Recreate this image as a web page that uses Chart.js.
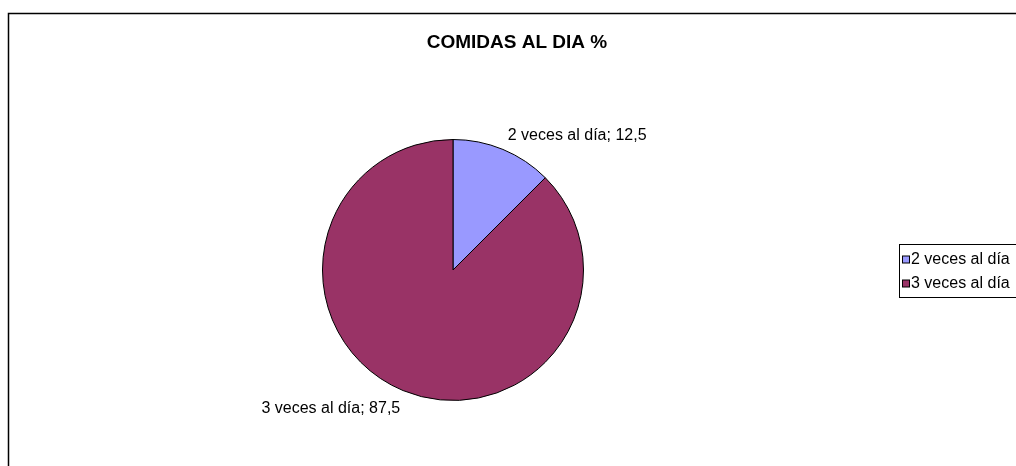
<!DOCTYPE html>
<html>
<head>
<meta charset="utf-8">
<script src="https://cdn.jsdelivr.net/npm/chart.js@4.4.1/dist/chart.umd.min.js"></script>
<style>
  html, body { margin: 0; padding: 0; background: #fff; }
  #wrap { width: 1016px; height: 466px; position: relative; }
</style>
</head>
<body>
<div id="wrap"><canvas id="pieChart" width="1016" height="466"></canvas></div>
<script>
// ── Data ──
const CATEGORIES = ['2 veces al día', '3 veces al día'];
const VALUES = [12.5, 87.5];
const COLORS = ['#9999ff', '#993366'];
const TITLE = 'COMIDAS AL DIA %';

const FONT = '"Liberation Sans", Arial, sans-serif';

// frame, title, legend and outside labels
const excelLook = {
  id: 'excelLook',
  afterDraw(chart) {
    const ctx = chart.ctx;
    ctx.save();

    // outer frame (right/bottom edges fall outside the picture)
    ctx.strokeStyle = '#000';
    ctx.lineWidth = 1.5;
    ctx.beginPath();
    ctx.moveTo(8.5, 470);
    ctx.lineTo(8.5, 13.5);
    ctx.lineTo(1020, 13.5);
    ctx.stroke();

    // title
    ctx.fillStyle = '#000';
    ctx.font = 'bold 19px ' + FONT;
    ctx.textAlign = 'center';
    ctx.textBaseline = 'middle';
    ctx.fillText(TITLE, 517, 43);

    // data labels outside slices
    ctx.font = '16px ' + FONT;
    const meta = chart.getDatasetMeta(0);
    meta.data.forEach((arc, i) => {
      const mid = (arc.startAngle + arc.endAngle) / 2;
      const r = arc.outerRadius + 10;
      const dx = Math.cos(mid);
      const dy = Math.sin(mid);
      const x = arc.x + dx * r;
      const y = arc.y + dy * r;
      ctx.textAlign = dx >= 0 ? 'left' : 'right';
      ctx.textBaseline = 'middle';
      const txt = CATEGORIES[i] + '; ' + VALUES[i].toString().replace('.', ',');
      ctx.fillText(txt, x + (dx >= 0 ? 1 : 1), dy < 0 ? y - 5 : y + 9);
    });

    // legend box
    ctx.lineWidth = 1;
    ctx.strokeStyle = '#000';
    ctx.strokeRect(899.5, 244.5, 200, 53);
    ctx.textAlign = 'left';
    ctx.textBaseline = 'middle';
    CATEGORIES.forEach((c, i) => {
      const cy = 259.5 + i * 24;
      ctx.fillStyle = COLORS[i];
      ctx.fillRect(902.5, cy - 3.5, 7, 7);
      ctx.strokeRect(902.5, cy - 3.5, 7, 7);
      ctx.fillStyle = '#000';
      ctx.fillText(c, 911, cy);
    });

    ctx.restore();
  }
};

new Chart(document.getElementById('pieChart'), {
  type: 'pie',
  data: {
    labels: CATEGORIES,
    datasets: [{
      data: VALUES,
      backgroundColor: COLORS,
      borderColor: '#000',
      borderWidth: 1,
    }]
  },
  options: {
    responsive: false,
    animation: false,
    layout: { padding: { left: 322, right: 432, top: 139, bottom: 65 } },
    plugins: {
      legend: { display: false },
      title: { display: false },
      tooltip: { enabled: false },
    }
  },
  plugins: [excelLook]
});
</script>
</body>
</html>
